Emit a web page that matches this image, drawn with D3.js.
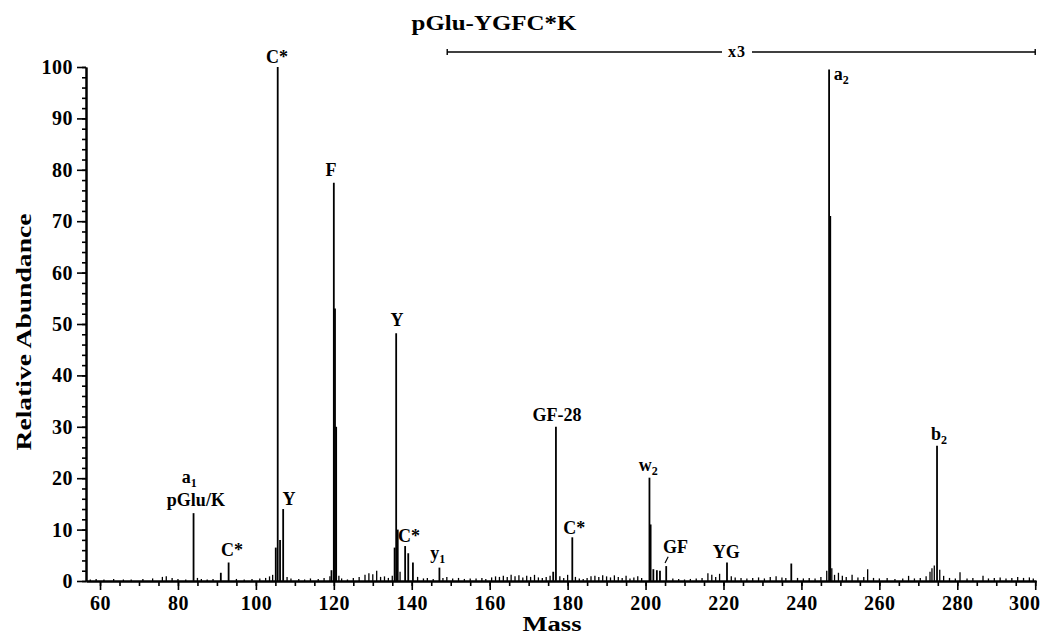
<!DOCTYPE html>
<html lang="en">
<head>
<meta charset="UTF-8">
<title>pGlu-YGFC*K</title>
<style>
  body { margin: 0; background: #fff; }
  text { font-family: "Liberation Serif", "DejaVu Serif", serif; font-weight: bold; fill: #000; }
</style>
</head>
<body>
<svg id="cont" width="1041" height="635"></svg>
<script src="https://cdn.jsdelivr.net/npm/d3@7/dist/d3.min.js"></script>
<script>
// main fragment peaks: [mass, relative abundance as drawn (x3 above m/z 149)]
const ions = [
  [84.0, 13.2], [91.0, 1.6], [93.0, 3.6], [105.1, 6.5], [105.6, 100], [106.2, 8],
  [107.0, 14.0], [119.4, 2.1], [120.0, 77.5], [120.3, 53], [120.6, 30],
  [135.6, 6.5], [136.0, 48.2], [136.4, 10], [138.3, 6.8], [139.1, 5.4], [140.3, 3.6],
  [147.1, 2.6], [176.3, 1.8], [177.0, 30.0], [181.2, 8.5], [201.0, 20.1], [201.3, 11],
  [202.0, 2.3], [202.9, 2.1], [203.7, 2.0], [205.3, 2.9], [220.9, 3.6], [237.4, 3.4],
  [247.1, 99.5], [247.4, 71], [274.8, 26.3]
];

// small baseline peaks
const noise = [
  [57.5,0.3],[59,0.4],[61,0.3],[63.5,0.4],[66,0.3],[68,0.3],[71,0.4],[73.5,0.5],[76,0.8],[77,0.9],
  [78.5,0.6],[80,0.4],[82,0.3],[85,0.6],[86,0.4],[87.5,0.3],[89,0.4],[95,0.4],[97,0.3],[99,0.4],
  [101,0.5],[102.5,0.6],[103.5,0.9],[104.3,1.2],[108,0.8],[109,0.5],[111,0.4],[112.5,0.3],[114,0.5],
  [116,0.4],[117.5,0.6],[119,0.9],[121.3,1.0],[122,0.5],[123.5,0.3],[125,0.6],[126.5,0.8],[128,1.2],
  [129,1.5],[130,1.3],[131,2.0],[132,0.8],[133,0.9],[134,0.6],[135,1.0],[137,1.8],[141.5,0.8],
  [143,0.5],[144,0.6],[145.5,0.4],[148,0.6],[149,0.8],[150.5,0.5],[152,0.6],[153.5,0.4],[155,0.5],
  [156.5,0.5],[158,0.6],[159,0.4],[160.5,0.7],[161.5,0.9],[162.5,0.8],[163.5,1.0],[164.5,0.8],
  [165.5,1.2],[166.5,0.9],[167.5,1.1],[168.5,0.7],[169.5,1.0],[170.5,0.8],[171.5,1.2],[172.5,0.7],
  [173.5,0.6],[174.5,0.8],[175.5,1.0],[178,0.9],[179,0.6],[180,1.2],[182,0.8],[183,0.5],[184,0.4],
  [185,0.6],[186,0.9],[187,1.0],[188,0.8],[189,1.1],[190,0.9],[191,0.7],[192,1.1],[193,0.8],[194,0.6],
  [195,1.0],[196,0.5],[197,0.7],[198,0.9],[199,0.6],[207,0.5],[208.5,0.4],[210,0.3],[211.5,0.4],
  [213,0.5],[214.5,0.6],[216,1.5],[217,1.2],[218,0.8],[219,1.4],[222,0.9],[223,0.7],[224.5,0.6],
  [226,0.5],[227.5,0.6],[229,0.7],[230.5,0.5],[232,0.8],[233.5,0.9],[235,0.7],[236,0.6],[239,0.6],
  [240.5,0.5],[242,0.6],[243.5,0.5],[245,0.8],[246.5,2.0],[247.8,2.5],[248.5,1.2],[249.5,1.6],
  [250.5,1.0],[251.5,0.8],[253,1.2],[254.5,0.7],[256,0.8],[257,2.3],[258.5,0.6],[260,0.5],[262,0.6],
  [264,0.4],[266,0.5],[267.5,1.0],[269,0.5],[270.5,0.6],[272,0.9],[273,1.8],[273.5,2.5],[274.1,3.0],
  [275.5,2.2],[276.5,1.0],[278,0.6],[279.5,0.5],[280.7,1.7],[282.5,0.5],[284,0.6],[286.6,1.0],
  [288,0.5],[289.5,0.6],[291,0.7],[292.5,0.5],[294,0.6],[295.5,0.8],[297,0.6],[298.5,0.7],[299.5,0.5]
];

// peak annotations: text, subscript, centre mass, baseline abundance
const labels = [
  { t: "C*", m: 105.4, v: 100.8 },
  { t: "F", m: 119.3, v: 78.8 },
  { t: "Y", m: 136.2, v: 49.6 },
  { t: "a", s: "1", m: 82.9, v: 19.1 },
  { t: "pGlu/K", m: 84.6, v: 14.6 },
  { t: "C*", m: 93.9, v: 4.9 },
  { t: "Y", m: 108.5, v: 14.8 },
  { t: "C*", m: 139.3, v: 7.6 },
  { t: "y", s: "1", m: 146.7, v: 4.3 },
  { t: "GF-28", m: 177.3, v: 31.1 },
  { t: "C*", m: 181.7, v: 9.1 },
  { t: "w", s: "2", m: 200.7, v: 21.4 },
  { t: "GF", m: 207.7, v: 5.4 },
  { t: "YG", m: 220.7, v: 4.5 },
  { t: "a", s: "2", m: 250.2, v: 97.5 },
  { t: "b", s: "2", m: 275.3, v: 27.4 }
];
const gfLeader = [[205.0, 3.5], [205.8, 4.7]];

const majorX = d3.range(60, 301, 20);
const minorX = d3.range(60, 301, 5);
const majorY = d3.range(0, 101, 10);
const minorY = d3.range(0, 101, 2);
const zoomSpan = [149.1, 300];

const svg = d3.select("#cont");

let x = d3.scaleLinear().domain([56.4, 300.2]).range([86, 1036]);
let y = d3.scaleLinear().domain([0, 100]).range([581, 67]);

// axes
let xMinor = d3.axisBottom(x).tickValues(minorX).tickSize(5).tickSizeOuter(0).tickFormat("");
let xMajor = d3.axisBottom(x).tickValues(majorX).tickSize(9).tickSizeOuter(0).tickPadding(6);
let yMinor = d3.axisLeft(y).tickValues(minorY).tickSize(4).tickSizeOuter(0).tickFormat("");
let yMajor = d3.axisLeft(y).tickValues(majorY).tickSize(9).tickSizeOuter(0).tickPadding(4);

[[xMinor, "translate(0,581)"], [xMajor, "translate(0,581)"],
 [yMinor, "translate(86,0)"], [yMajor, "translate(86,0)"]].forEach(([ax, tr]) => {
  let g = svg.append("g").attr("transform", tr).call(ax);
  g.select(".domain").attr("stroke", "#000").attr("stroke-width", 2);
  g.selectAll(".tick line").attr("stroke", "#000").attr("stroke-width", 1.6);
  g.selectAll(".tick text").attr("font-size", 20).attr("font-family", null)
    .attr("letter-spacing", 0.5).attr("fill", "#000");
});
// last x label sits a little inside the frame
svg.selectAll(".tick text").filter(d => d === 300).attr("dx", -11);

// peaks
svg.append("g").selectAll("line")
  .data(noise)
  .join("line")
  .attr("x1", d => x(d[0])).attr("x2", d => x(d[0]))
  .attr("y1", y(0)).attr("y2", d => y(d[1]))
  .attr("stroke", "#000").attr("stroke-width", 1.3);

svg.append("g").selectAll("line")
  .data(ions)
  .join("line")
  .attr("x1", d => x(d[0])).attr("x2", d => x(d[0]))
  .attr("y1", y(0)).attr("y2", d => y(d[1]))
  .attr("stroke", "#000").attr("stroke-width", 1.8);

// labels
let lab = svg.append("g").selectAll("text")
  .data(labels)
  .join("text")
  .attr("x", d => x(d.m)).attr("y", d => y(d.v))
  .attr("text-anchor", "middle").attr("font-size", 18);
lab.append("tspan").text(d => d.t);
lab.filter(d => d.s).append("tspan")
  .attr("font-size", 12).attr("dy", 4).text(d => d.s);

svg.append("line")
  .attr("x1", x(gfLeader[0][0])).attr("y1", y(gfLeader[0][1]))
  .attr("x2", x(gfLeader[1][0])).attr("y2", y(gfLeader[1][1]))
  .attr("stroke", "#000").attr("stroke-width", 1.2);

// x3 span
let zy = 52, mid = 737;
let zg = svg.append("g").attr("stroke", "#000").attr("stroke-width", 1.4);
zg.append("line").attr("x1", x(zoomSpan[0])).attr("x2", mid - 15).attr("y1", zy).attr("y2", zy);
zg.append("line").attr("x1", mid + 15).attr("x2", x(zoomSpan[1])).attr("y1", zy).attr("y2", zy);
zoomSpan.forEach(m => zg.append("line").attr("x1", x(m)).attr("x2", x(m)).attr("y1", zy - 3).attr("y2", zy + 3));
svg.append("text").attr("x", mid).attr("y", zy + 5).attr("text-anchor", "middle")
  .attr("font-size", 16).attr("letter-spacing", 1).text("x3");

// titles
svg.append("text").attr("x", 494).attr("y", 30).attr("text-anchor", "middle")
  .attr("font-size", 22).attr("textLength", 165).attr("lengthAdjust", "spacingAndGlyphs")
  .text("pGlu-YGFC*K");
svg.append("text").attr("x", 552).attr("y", 631).attr("text-anchor", "middle")
  .attr("font-size", 20).attr("textLength", 59).attr("lengthAdjust", "spacingAndGlyphs")
  .text("Mass");
svg.append("text").attr("transform", "translate(31,332) rotate(-90)").attr("text-anchor", "middle")
  .attr("font-size", 21).attr("textLength", 237).attr("lengthAdjust", "spacingAndGlyphs")
  .text("Relative  Abundance");
</script>
</body>
</html>
